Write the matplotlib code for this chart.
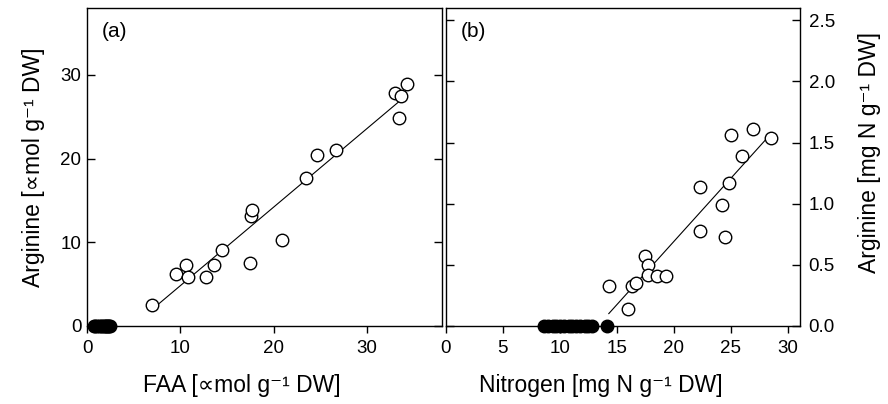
import numpy as np
import matplotlib
matplotlib.use("Agg")
import matplotlib.pyplot as plt

plt.rcParams['font.family'] = ['Liberation Sans', 'DejaVu Sans']

# panel (a): FAA vs arginine (umol g-1 DW)
faa_open = [6.97, 9.5, 10.65, 10.8, 12.7, 13.6, 14.5, 17.5, 17.6, 17.65,
            20.9, 23.4, 24.65, 26.6, 33.0, 33.6, 33.4, 34.3]
arg_open = [2.5, 6.2, 7.3, 5.9, 5.9, 7.3, 9.1, 7.5, 13.1, 13.9,
            10.3, 17.7, 20.4, 21.0, 27.9, 27.5, 24.9, 28.9]
faa_zero = [0.7, 0.9, 1.1, 1.3, 1.5, 1.6, 1.8, 1.9, 2.0, 2.1, 2.2, 2.4, 2.5]
faa_fit_range = [7.3, 33.4]

# panel (b): nitrogen vs arginine (mg N g-1 DW)
n_open = [14.3, 16.0, 16.3, 16.7, 17.5, 17.7, 17.7, 18.5, 19.3,
          22.3, 22.3, 24.2, 24.5, 24.85, 25.0, 26.0, 26.95, 28.5]
argn_open = [0.33, 0.14, 0.33, 0.35, 0.57, 0.50, 0.42, 0.41, 0.41,
             1.14, 0.78, 0.99, 0.73, 1.17, 1.56, 1.39, 1.61, 1.54]
n_zero = [8.6, 9.0, 9.4, 9.7, 10.0, 10.4, 10.8, 11.1, 11.4, 11.8,
          12.2, 12.5, 12.8, 14.1]
n_fit_range = [14.3, 28.0]

fig = plt.figure(figsize=(8.88, 4.04), dpi=100)
axa = fig.add_axes([87 / 888, 78 / 404, 355 / 888, 318 / 404])
axb = fig.add_axes([445.5 / 888, 78 / 404, 354 / 888, 318 / 404])

mk = dict(marker='o', markersize=9, markeredgewidth=1.0, linestyle='none',
          markeredgecolor='black', clip_on=False, zorder=3)
TICK = 13.5
LAB = 16.5

# (a)
k, b = np.polyfit(faa_open, arg_open, 1)
xf = np.array(faa_fit_range)
axa.plot(xf, k * xf + b, color='black', lw=0.8)
axa.plot(faa_open, arg_open, markerfacecolor='white', **mk)
axa.plot(faa_zero, np.zeros(len(faa_zero)), markerfacecolor='black', **mk)
axa.set_xlim(0, 38)
axa.set_ylim(0, 38)
axa.set_xticks([0, 10, 20, 30])
axa.set_yticks([0, 10, 20, 30])
axa.tick_params(axis='x', direction='out', length=5, width=1,
                labelsize=TICK, pad=5)
axa.tick_params(axis='y', direction='in', length=6, width=1,
                labelsize=TICK, left=True, right=True, pad=4)
axa.set_xlabel('FAA [∝mol g⁻¹ DW]', fontsize=LAB)
axa.set_ylabel('Arginine [∝mol g⁻¹ DW]', fontsize=LAB)
axa.xaxis.set_label_coords(0.437, -0.15)
axa.yaxis.set_label_coords(-0.118, 0.5)
axa.text(0.042, 0.955, '(a)', transform=axa.transAxes, fontsize=15,
         va='top', ha='left')

# (b)
k2, b2 = np.polyfit(n_open, argn_open, 1)
xf2 = np.array(n_fit_range)
axb.plot(xf2, k2 * xf2 + b2, color='black', lw=0.8)
axb.plot(n_open, argn_open, markerfacecolor='white', **mk)
axb.plot(n_zero, np.zeros(len(n_zero)), markerfacecolor='black', **mk)
axb.set_xlim(0, 31)
axb.set_ylim(0, 2.6)
axb.set_xticks([0, 5, 10, 15, 20, 25, 30])
yt = [0.0, 0.5, 1.0, 1.5, 2.0, 2.5]
axb.set_yticks(yt)
axb.set_yticklabels(['%.1f' % v for v in yt])
axb.tick_params(axis='x', direction='out', length=5, width=1,
                labelsize=TICK, pad=5)
axb.tick_params(axis='y', direction='in', length=6, width=1, labelsize=TICK,
                left=True, right=True, labelleft=False, labelright=True, pad=6.5)
axb.yaxis.set_label_position('right')
axb.set_xlabel('Nitrogen [mg N g⁻¹ DW]', fontsize=LAB)
axb.set_ylabel('Arginine [mg N g⁻¹ DW]', fontsize=LAB)
axb.xaxis.set_label_coords(0.438, -0.15)
axb.yaxis.set_label_coords(1.165, 0.545)
axb.text(0.042, 0.955, '(b)', transform=axb.transAxes, fontsize=15,
         va='top', ha='left')

for ax in (axa, axb):
    for s in ax.spines.values():
        s.set_linewidth(1.0)

fig.savefig('out.png', dpi=100)
